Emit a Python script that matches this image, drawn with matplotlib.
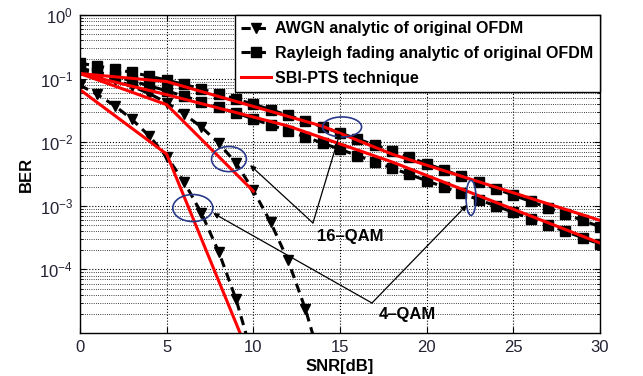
import matplotlib
matplotlib.use("Agg")
import matplotlib.pyplot as plt
from matplotlib.patches import Ellipse
from matplotlib.lines import Line2D

plt.rcParams['font.family'] = ['Liberation Sans', 'DejaVu Sans']

# ---- data ----
snr_awgn4 = [0, 1, 2, 3, 4, 5, 6, 7, 8, 9, 10]
ber_awgn4 = [0.0786, 0.0563, 0.0375, 0.0229, 0.0125, 0.00595, 0.00239, 7.7e-4, 1.9e-4, 3.4e-5, 3.9e-6]

snr_awgn16 = [0, 1, 2, 3, 4, 5, 6, 7, 8, 9, 10, 11, 12, 13, 14]
ber_awgn16 = [0.139, 0.118, 0.0965, 0.076, 0.058, 0.042, 0.028, 0.0173, 0.0097,
              0.0047, 0.00175, 5.5e-4, 1.39e-4, 2.4e-5, 2.8e-6]

snr_ray = list(range(0, 31))
ber_ray4 = [0.1464, 0.1267, 0.1085, 0.0919, 0.0771, 0.0642, 0.0530, 0.0435, 0.0355, 0.0288,
            0.0233, 0.0187, 0.0151, 0.0121, 0.00967, 0.00774, 0.00617, 0.00492, 0.00392,
            0.00312, 0.00248, 0.00197, 0.00157, 0.00125, 9.93e-4, 7.89e-4, 6.27e-4,
            4.98e-4, 3.96e-4, 3.15e-4, 2.5e-4]
ber_ray16 = [0.1746, 0.1580, 0.1414, 0.1252, 0.1095, 0.0948, 0.0811, 0.0687, 0.0576, 0.0479,
             0.0396, 0.0325, 0.0265, 0.0215, 0.01737, 0.0140, 0.01125, 0.00902, 0.00722,
             0.00577, 0.00460, 0.00367, 0.00292, 0.00233, 0.00185, 0.00147, 0.00117,
             9.32e-4, 7.41e-4, 5.90e-4, 4.68e-4]

snr_sbi_awgn4 = [0, 5, 10]
ber_sbi_awgn4 = [0.067, 0.0065, 3.1e-6]
snr_sbi_awgn16 = [0, 5, 10]
ber_sbi_awgn16 = [0.12, 0.039, 0.0017]
snr_sbi_ray16 = [0, 5, 14, 18, 30]
ber_sbi_ray16 = [0.12, 0.09, 0.0178, 0.0065, 5.9e-4]
snr_sbi_ray4 = [0, 5, 12, 18, 30]
ber_sbi_ray4 = [0.12, 0.056, 0.018, 0.0049, 2.6e-4]

xticks = [0, 5, 10, 15, 20, 25, 30]
yticks = [1e-4, 1e-3, 1e-2, 1e-1, 1e0]

fig = plt.figure(figsize=(6.43, 3.76), dpi=100)
ax = fig.add_axes([0.1244, 0.1144, 0.8087, 0.8456])

blk = dict(color='black', linestyle='--', linewidth=2.2, dashes=(3, 2))
ax.plot(snr_awgn4, ber_awgn4, marker='v', markersize=7, **blk)
ax.plot(snr_awgn16, ber_awgn16, marker='v', markersize=7, **blk)
ax.plot(snr_ray, ber_ray4, marker='s', markersize=6.5, **blk)
ax.plot(snr_ray, ber_ray16, marker='s', markersize=6.5, **blk)

red = dict(color='#ff0000', linewidth=2.2)
ax.plot(snr_sbi_awgn4, ber_sbi_awgn4, **red)
ax.plot(snr_sbi_awgn16, ber_sbi_awgn16, **red)
ax.plot(snr_sbi_ray16, ber_sbi_ray16, **red)
ax.plot(snr_sbi_ray4, ber_sbi_ray4, **red)

ax.set_yscale('log')
ax.set_xlim(0, 30)
ax.set_ylim(1e-5, 1)
ax.set_xticks(xticks)
ax.set_yticks(yticks)
ax.tick_params(which='both', direction='in', top=True, right=True, labelsize=12,
               labelcolor='#222233')
ax.tick_params(which='major', length=4, pad=5)
ax.tick_params(which='minor', length=2)
ax.grid(True, which='major', linestyle=':', color='black', linewidth=0.8)
ax.grid(True, which='minor', axis='y', linestyle=':', color='black', linewidth=0.6)
for s in ax.spines.values():
    s.set_linewidth(1.0)

ax.set_xlabel('SNR[dB]', fontsize=12, fontweight='bold', labelpad=3)
ax.set_ylabel('BER', fontsize=12, fontweight='bold', labelpad=4)

h1 = Line2D([], [], marker='v', markersize=7, **blk)
h2 = Line2D([], [], marker='s', markersize=6.5, **blk)
h3 = Line2D([], [], **red)
leg = ax.legend([h1, h2, h3],
                ['AWGN analytic of original OFDM',
                 'Rayleigh fading analytic of original OFDM',
                 'SBI-PTS technique'],
                loc='upper right', bbox_to_anchor=(1, 1), borderaxespad=0,
                fancybox=False, framealpha=1, edgecolor='black',
                prop={'weight': 'bold', 'size': 11.5}, handlelength=1.9,
                labelspacing=0.6, borderpad=0.4, handletextpad=0.25)
leg.get_frame().set_linewidth(1.0)

navy = '#2a3a8a'
for (cx, cy, w, h) in [(0.2865, 0.547, 0.067, 0.079), (0.217, 0.393, 0.077, 0.085),
                       (0.504, 0.648, 0.075, 0.063), (0.752, 0.425, 0.019, 0.11)]:
    ax.add_patch(Ellipse((cx, cy), w, h, transform=ax.transAxes, fill=False,
                         edgecolor=navy, linewidth=1.2, zorder=5))

arr = dict(arrowstyle='-|>', color='black', linewidth=0.9, mutation_scale=8, shrinkA=0, shrinkB=0)
v16 = (0.448, 0.346)
v4 = (0.5615, 0.0943)
for head, base in [((0.327, 0.528), v16), ((0.5, 0.629), v16),
                   ((0.256, 0.377), v4), ((0.744, 0.4025), v4)]:
    ax.annotate('', xy=head, xycoords='axes fraction', xytext=base,
                textcoords='axes fraction', arrowprops=arr, zorder=6)

ax.text(0.519, 0.302, '16\u2013QAM', transform=ax.transAxes, ha='center', va='center',
        fontsize=12, fontweight='bold', zorder=7)
ax.text(0.629, 0.057, '4\u2013QAM', transform=ax.transAxes, ha='center', va='center',
        fontsize=12, fontweight='bold', zorder=7)

fig.savefig('out.png', dpi=100)
